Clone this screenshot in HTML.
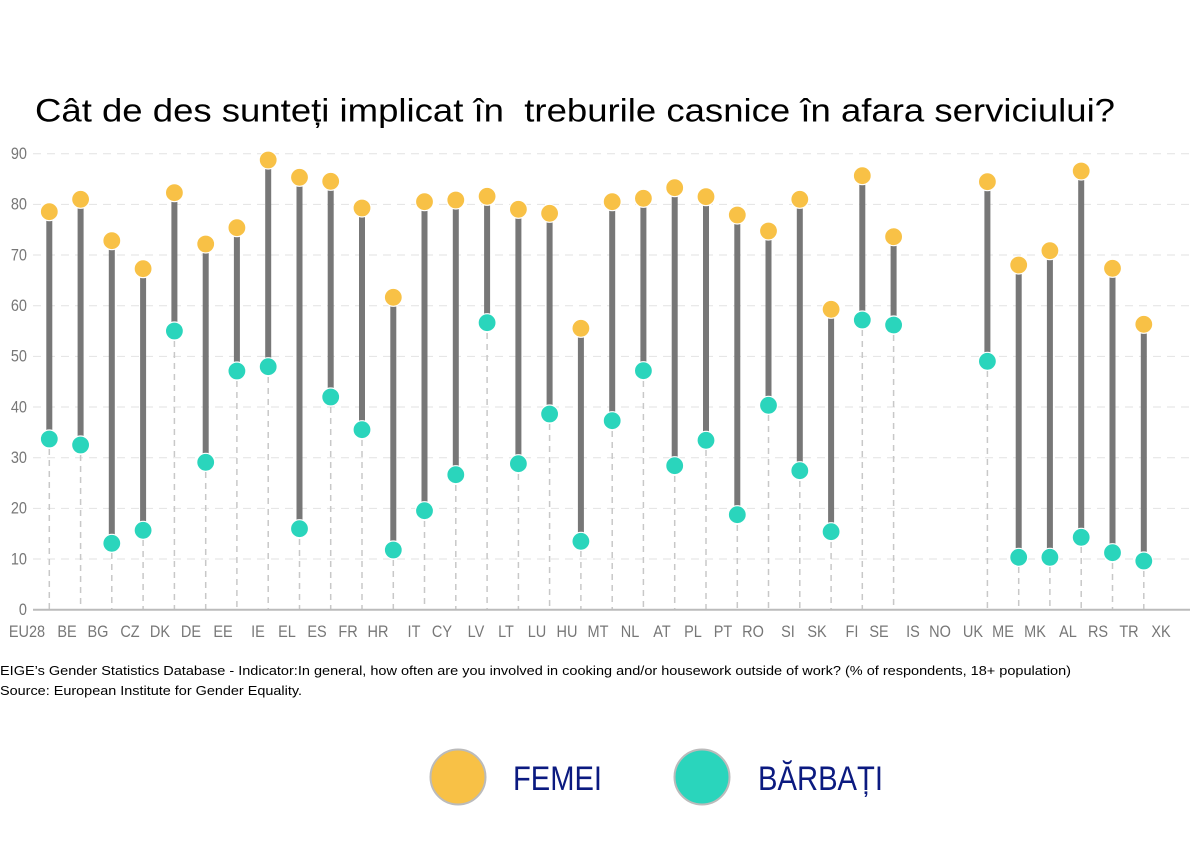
<!DOCTYPE html>
<html>
<head>
<meta charset="utf-8">
<style>
  html,body{margin:0;padding:0;background:#fff;}
  svg{display:block;}
  text{font-family:"Liberation Sans",Arial,sans-serif;}
</style>
</head>
<body>
<svg width="1200" height="843" viewBox="0 0 1200 843" xmlns="http://www.w3.org/2000/svg">
  <rect width="1200" height="843" fill="#fff"/>

  <!-- Title -->
  <text x="35" y="121.5" font-size="32" fill="#000" textLength="1080" lengthAdjust="spacingAndGlyphs" xml:space="preserve">Cât de des sunteți implicat în  treburile casnice în afara serviciului?</text>

  <!-- Horizontal gridlines -->
  <g stroke="#e2e2e2" stroke-width="1" stroke-dasharray="8,6" fill="none">
    <line x1="33" y1="153.7" x2="1190" y2="153.7"/>
    <line x1="33" y1="204.4" x2="1190" y2="204.4"/>
    <line x1="33" y1="255.0" x2="1190" y2="255.0"/>
    <line x1="33" y1="305.7" x2="1190" y2="305.7"/>
    <line x1="33" y1="356.4" x2="1190" y2="356.4"/>
    <line x1="33" y1="407.0" x2="1190" y2="407.0"/>
    <line x1="33" y1="457.7" x2="1190" y2="457.7"/>
    <line x1="33" y1="508.4" x2="1190" y2="508.4"/>
    <line x1="33" y1="559.0" x2="1190" y2="559.0"/>
  </g>

  <!-- Y labels -->
  <g font-size="14.5" fill="#777" text-anchor="end">
    <text x="27" y="0" transform="translate(0,159) scale(1,1.12)">90</text>
    <text x="27" y="0" transform="translate(0,209.7) scale(1,1.12)">80</text>
    <text x="27" y="0" transform="translate(0,260.3) scale(1,1.12)">70</text>
    <text x="27" y="0" transform="translate(0,311) scale(1,1.12)">60</text>
    <text x="27" y="0" transform="translate(0,361.7) scale(1,1.12)">50</text>
    <text x="27" y="0" transform="translate(0,412.3) scale(1,1.12)">40</text>
    <text x="27" y="0" transform="translate(0,463) scale(1,1.12)">30</text>
    <text x="27" y="0" transform="translate(0,513.7) scale(1,1.12)">20</text>
    <text x="27" y="0" transform="translate(0,564.3) scale(1,1.12)">10</text>
    <text x="27" y="0" transform="translate(0,615) scale(1,1.12)">0</text>
  </g>

  <!-- Dashed verticals below male dots -->
  <g stroke="#c8c8c8" stroke-width="1.5" stroke-dasharray="6,5" fill="none">
    <line x1="49.3" y1="449" x2="49.3" y2="609"/>
    <line x1="80.6" y1="455" x2="80.6" y2="609"/>
    <line x1="111.8" y1="553" x2="111.8" y2="609"/>
    <line x1="143.1" y1="540" x2="143.1" y2="609"/>
    <line x1="174.4" y1="341" x2="174.4" y2="609"/>
    <line x1="205.7" y1="472" x2="205.7" y2="609"/>
    <line x1="236.9" y1="381" x2="236.9" y2="609"/>
    <line x1="268.2" y1="377" x2="268.2" y2="609"/>
    <line x1="299.5" y1="539" x2="299.5" y2="609"/>
    <line x1="330.7" y1="407" x2="330.7" y2="609"/>
    <line x1="362.0" y1="440" x2="362.0" y2="609"/>
    <line x1="393.3" y1="560" x2="393.3" y2="609"/>
    <line x1="424.5" y1="521" x2="424.5" y2="609"/>
    <line x1="455.8" y1="485" x2="455.8" y2="609"/>
    <line x1="487.1" y1="333" x2="487.1" y2="609"/>
    <line x1="518.4" y1="474" x2="518.4" y2="609"/>
    <line x1="549.6" y1="424" x2="549.6" y2="609"/>
    <line x1="580.9" y1="551" x2="580.9" y2="609"/>
    <line x1="612.2" y1="431" x2="612.2" y2="609"/>
    <line x1="643.4" y1="381" x2="643.4" y2="609"/>
    <line x1="674.7" y1="476" x2="674.7" y2="609"/>
    <line x1="706.0" y1="450" x2="706.0" y2="609"/>
    <line x1="737.3" y1="525" x2="737.3" y2="609"/>
    <line x1="768.5" y1="415" x2="768.5" y2="609"/>
    <line x1="799.8" y1="481" x2="799.8" y2="609"/>
    <line x1="831.1" y1="542" x2="831.1" y2="609"/>
    <line x1="862.3" y1="330" x2="862.3" y2="609"/>
    <line x1="893.6" y1="335" x2="893.6" y2="609"/>
    <line x1="987.4" y1="371" x2="987.4" y2="609"/>
    <line x1="1018.7" y1="567" x2="1018.7" y2="609"/>
    <line x1="1049.9" y1="567" x2="1049.9" y2="609"/>
    <line x1="1081.2" y1="547" x2="1081.2" y2="609"/>
    <line x1="1112.5" y1="563" x2="1112.5" y2="609"/>
    <line x1="1143.8" y1="571" x2="1143.8" y2="609"/>
  </g>

  <!-- Axis -->
  <line x1="33" y1="609.7" x2="1190" y2="609.7" stroke="#bbbbbb" stroke-width="2"/>

  <!-- Stems -->
  <g stroke="#777777" stroke-width="6" fill="none">
    <line x1="49.3" y1="211.7" x2="49.3" y2="439"/>
    <line x1="80.6" y1="199.3" x2="80.6" y2="445"/>
    <line x1="111.8" y1="240.7" x2="111.8" y2="543.3"/>
    <line x1="143.1" y1="268.7" x2="143.1" y2="530.3"/>
    <line x1="174.4" y1="192.7" x2="174.4" y2="331"/>
    <line x1="205.7" y1="244" x2="205.7" y2="462.3"/>
    <line x1="236.9" y1="227.7" x2="236.9" y2="371"/>
    <line x1="268.2" y1="160" x2="268.2" y2="366.7"/>
    <line x1="299.5" y1="177.3" x2="299.5" y2="528.7"/>
    <line x1="330.7" y1="181.3" x2="330.7" y2="397"/>
    <line x1="362.0" y1="208" x2="362.0" y2="429.7"/>
    <line x1="393.3" y1="297.3" x2="393.3" y2="550"/>
    <line x1="424.5" y1="201.7" x2="424.5" y2="510.7"/>
    <line x1="455.8" y1="200" x2="455.8" y2="474.7"/>
    <line x1="487.1" y1="196.3" x2="487.1" y2="322.7"/>
    <line x1="518.4" y1="209.3" x2="518.4" y2="463.7"/>
    <line x1="549.6" y1="213.3" x2="549.6" y2="414"/>
    <line x1="580.9" y1="328.3" x2="580.9" y2="541.3"/>
    <line x1="612.2" y1="201.7" x2="612.2" y2="420.7"/>
    <line x1="643.4" y1="198.3" x2="643.4" y2="370.7"/>
    <line x1="674.7" y1="187.7" x2="674.7" y2="465.7"/>
    <line x1="706.0" y1="196.7" x2="706.0" y2="440.3"/>
    <line x1="737.3" y1="215" x2="737.3" y2="514.7"/>
    <line x1="768.5" y1="231" x2="768.5" y2="405.3"/>
    <line x1="799.8" y1="199.3" x2="799.8" y2="470.7"/>
    <line x1="831.1" y1="309.3" x2="831.1" y2="531.7"/>
    <line x1="862.3" y1="175.7" x2="862.3" y2="320"/>
    <line x1="893.6" y1="236.7" x2="893.6" y2="325"/>
    <line x1="987.4" y1="181.7" x2="987.4" y2="361.3"/>
    <line x1="1018.7" y1="265" x2="1018.7" y2="557.3"/>
    <line x1="1049.9" y1="250.7" x2="1049.9" y2="557.3"/>
    <line x1="1081.2" y1="171" x2="1081.2" y2="537.3"/>
    <line x1="1112.5" y1="268.3" x2="1112.5" y2="552.7"/>
    <line x1="1143.8" y1="324.3" x2="1143.8" y2="561"/>
  </g>

  <!-- Female dots -->
  <g fill="#F8C146" stroke="#ffffff" stroke-width="1.2">
    <circle cx="49.3" cy="211.7" r="9"/>
    <circle cx="80.6" cy="199.3" r="9"/>
    <circle cx="111.8" cy="240.7" r="9"/>
    <circle cx="143.1" cy="268.7" r="9"/>
    <circle cx="174.4" cy="192.7" r="9"/>
    <circle cx="205.7" cy="244" r="9"/>
    <circle cx="236.9" cy="227.7" r="9"/>
    <circle cx="268.2" cy="160" r="9"/>
    <circle cx="299.5" cy="177.3" r="9"/>
    <circle cx="330.7" cy="181.3" r="9"/>
    <circle cx="362.0" cy="208" r="9"/>
    <circle cx="393.3" cy="297.3" r="9"/>
    <circle cx="424.5" cy="201.7" r="9"/>
    <circle cx="455.8" cy="200" r="9"/>
    <circle cx="487.1" cy="196.3" r="9"/>
    <circle cx="518.4" cy="209.3" r="9"/>
    <circle cx="549.6" cy="213.3" r="9"/>
    <circle cx="580.9" cy="328.3" r="9"/>
    <circle cx="612.2" cy="201.7" r="9"/>
    <circle cx="643.4" cy="198.3" r="9"/>
    <circle cx="674.7" cy="187.7" r="9"/>
    <circle cx="706.0" cy="196.7" r="9"/>
    <circle cx="737.3" cy="215" r="9"/>
    <circle cx="768.5" cy="231" r="9"/>
    <circle cx="799.8" cy="199.3" r="9"/>
    <circle cx="831.1" cy="309.3" r="9"/>
    <circle cx="862.3" cy="175.7" r="9"/>
    <circle cx="893.6" cy="236.7" r="9"/>
    <circle cx="987.4" cy="181.7" r="9"/>
    <circle cx="1018.7" cy="265" r="9"/>
    <circle cx="1049.9" cy="250.7" r="9"/>
    <circle cx="1081.2" cy="171" r="9"/>
    <circle cx="1112.5" cy="268.3" r="9"/>
    <circle cx="1143.8" cy="324.3" r="9"/>
  </g>

  <!-- Male dots -->
  <g fill="#2AD5BC" stroke="#ffffff" stroke-width="1.2">
    <circle cx="49.3" cy="439" r="9"/>
    <circle cx="80.6" cy="445" r="9"/>
    <circle cx="111.8" cy="543.3" r="9"/>
    <circle cx="143.1" cy="530.3" r="9"/>
    <circle cx="174.4" cy="331" r="9"/>
    <circle cx="205.7" cy="462.3" r="9"/>
    <circle cx="236.9" cy="371" r="9"/>
    <circle cx="268.2" cy="366.7" r="9"/>
    <circle cx="299.5" cy="528.7" r="9"/>
    <circle cx="330.7" cy="397" r="9"/>
    <circle cx="362.0" cy="429.7" r="9"/>
    <circle cx="393.3" cy="550" r="9"/>
    <circle cx="424.5" cy="510.7" r="9"/>
    <circle cx="455.8" cy="474.7" r="9"/>
    <circle cx="487.1" cy="322.7" r="9"/>
    <circle cx="518.4" cy="463.7" r="9"/>
    <circle cx="549.6" cy="414" r="9"/>
    <circle cx="580.9" cy="541.3" r="9"/>
    <circle cx="612.2" cy="420.7" r="9"/>
    <circle cx="643.4" cy="370.7" r="9"/>
    <circle cx="674.7" cy="465.7" r="9"/>
    <circle cx="706.0" cy="440.3" r="9"/>
    <circle cx="737.3" cy="514.7" r="9"/>
    <circle cx="768.5" cy="405.3" r="9"/>
    <circle cx="799.8" cy="470.7" r="9"/>
    <circle cx="831.1" cy="531.7" r="9"/>
    <circle cx="862.3" cy="320" r="9"/>
    <circle cx="893.6" cy="325" r="9"/>
    <circle cx="987.4" cy="361.3" r="9"/>
    <circle cx="1018.7" cy="557.3" r="9"/>
    <circle cx="1049.9" cy="557.3" r="9"/>
    <circle cx="1081.2" cy="537.3" r="9"/>
    <circle cx="1112.5" cy="552.7" r="9"/>
    <circle cx="1143.8" cy="561" r="9"/>
  </g>

  <!-- Category labels -->
  <g font-size="14.5" fill="#777" text-anchor="middle" transform="translate(0,637) scale(1,1.12)">
    <text x="27" y="0">EU28</text>
    <text x="67" y="0">BE</text>
    <text x="98" y="0">BG</text>
    <text x="130" y="0">CZ</text>
    <text x="160" y="0">DK</text>
    <text x="191" y="0">DE</text>
    <text x="223" y="0">EE</text>
    <text x="258" y="0">IE</text>
    <text x="287" y="0">EL</text>
    <text x="317" y="0">ES</text>
    <text x="348" y="0">FR</text>
    <text x="378" y="0">HR</text>
    <text x="414" y="0">IT</text>
    <text x="442" y="0">CY</text>
    <text x="476" y="0">LV</text>
    <text x="506" y="0">LT</text>
    <text x="537" y="0">LU</text>
    <text x="567" y="0">HU</text>
    <text x="598" y="0">MT</text>
    <text x="630" y="0">NL</text>
    <text x="662" y="0">AT</text>
    <text x="693" y="0">PL</text>
    <text x="723" y="0">PT</text>
    <text x="753" y="0">RO</text>
    <text x="788" y="0">SI</text>
    <text x="817" y="0">SK</text>
    <text x="852" y="0">FI</text>
    <text x="879" y="0">SE</text>
    <text x="913" y="0">IS</text>
    <text x="940" y="0">NO</text>
    <text x="973" y="0">UK</text>
    <text x="1003" y="0">ME</text>
    <text x="1035" y="0">MK</text>
    <text x="1068" y="0">AL</text>
    <text x="1098" y="0">RS</text>
    <text x="1129" y="0">TR</text>
    <text x="1161" y="0">XK</text>
  </g>

  <!-- Footnote -->
  <g font-size="13" fill="#000">
    <text x="0" y="675" textLength="1071" lengthAdjust="spacingAndGlyphs">EIGE’s Gender Statistics Database - Indicator:In general, how often are you involved in cooking and/or housework outside of work? (% of respondents, 18+ population)</text>
    <text x="0" y="695" textLength="302" lengthAdjust="spacingAndGlyphs">Source: European Institute for Gender Equality.</text>
  </g>

  <!-- Legend -->
  <circle cx="458" cy="777" r="27.5" fill="#F8C146" stroke="#bbbbbb" stroke-width="2"/>
  <text x="513" y="790" font-size="34" fill="#0B1A80" textLength="89" lengthAdjust="spacingAndGlyphs">FEMEI</text>
  <circle cx="702" cy="777" r="27.5" fill="#2AD5BC" stroke="#bbbbbb" stroke-width="2"/>
  <text x="758" y="790" font-size="34" fill="#0B1A80" textLength="125" lengthAdjust="spacingAndGlyphs">BĂRBAȚI</text>
</svg>
</body>
</html>
